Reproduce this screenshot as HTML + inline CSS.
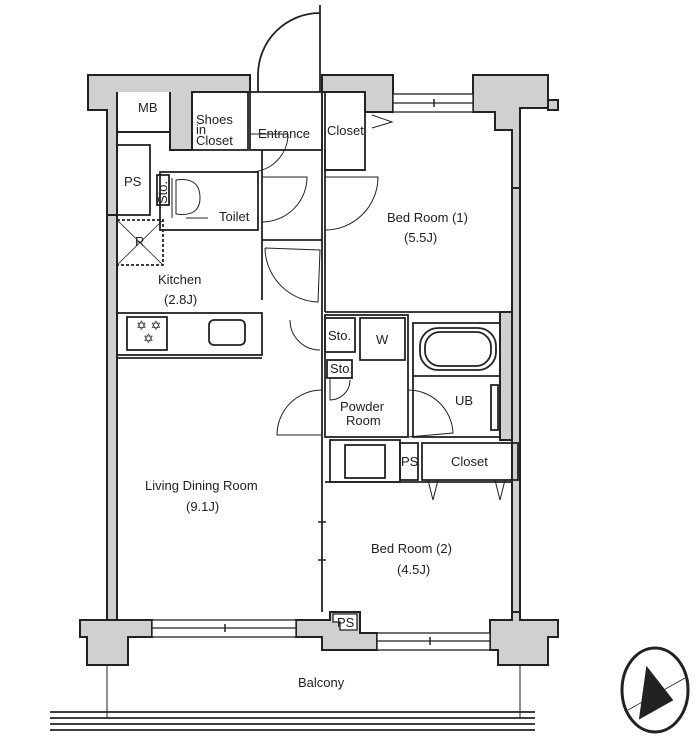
<!DOCTYPE html>
<html><head><meta charset="utf-8"><style>
html,body{margin:0;padding:0;background:#fff}
svg{display:block}
text{font-family:"Liberation Sans",Arial,sans-serif;fill:#222;font-size:13px}
</style></head><body>
<svg width="700" height="754" viewBox="0 0 700 754" xmlns="http://www.w3.org/2000/svg">
<g fill="#d0d0d0" stroke="#222" stroke-width="2">
<path d="M88 75 H250 V92 H192 V150 H170 V132 H117 V215 H107 V110 H88 Z"/>
<path d="M117 92 V132 H170 V92" fill="#fff"/>
<rect x="107" y="215" width="10" height="405"/>
<path d="M322 75 H393 V112 H365 V92 H322 Z"/>
<path d="M473 75 H548 V108 H520 V188 H512 V130 H495 V112 H473 Z"/>
<rect x="548" y="100" width="10" height="10"/>
<rect x="512" y="188" width="8" height="432"/>
<rect x="500" y="312" width="12" height="128"/>
<path d="M80 620 H152 V637 H128 V665 H87 V637 H80 Z"/>
<path d="M296 620 H330 V612 H360 V633 H377 V650 H322 V637 H296 Z"/>
<path d="M490 620 H512 V612 H520 V620 H558 V637 H548 V665 H498 V650 H490 Z"/>
</g>
<g fill="#fff" stroke="#222" stroke-width="1.3">
<rect x="393" y="94" width="80" height="18"/>
<line x1="393" y1="103" x2="473" y2="103"/>
<rect x="152" y="620" width="144" height="17"/>
<line x1="152" y1="628" x2="296" y2="628"/>
<rect x="377" y="633" width="113" height="17"/>
<line x1="377" y1="641" x2="490" y2="641"/>
<path d="M333 614 H357 V630 H340 V622 H333 Z"/>
</g>
<g fill="none" stroke="#222" stroke-width="1.8">
<rect x="192" y="92" width="56" height="58"/>
<rect x="250" y="92" width="72" height="58"/>
<rect x="325" y="92" width="40" height="78"/>
<rect x="117" y="145" width="33" height="70"/>
<rect x="160" y="172" width="98" height="58"/>
<rect x="157" y="175" width="12" height="30"/>
<rect x="117" y="220" width="46" height="45" stroke-dasharray="3 2"/>
<line x1="117" y1="220" x2="163" y2="265" stroke-width="0.8"/>
<line x1="163" y1="220" x2="117" y2="265" stroke-width="0.8"/>
<line x1="262" y1="150" x2="262" y2="300"/>
<line x1="322" y1="92" x2="322" y2="485"/>
<line x1="325" y1="150" x2="325" y2="312"/>
<line x1="262" y1="240" x2="322" y2="240"/>
<line x1="325" y1="312" x2="512" y2="312"/>
<line x1="325" y1="170" x2="365" y2="170"/>
<rect x="117" y="313" width="145" height="42"/>
<line x1="117" y1="358" x2="262" y2="358"/>
<rect x="127" y="317" width="40" height="33"/>
<rect x="209" y="320" width="36" height="25" rx="5"/>
<rect x="325" y="318" width="30" height="34"/>
<rect x="327" y="360" width="25" height="18"/>
<rect x="360" y="318" width="45" height="42"/>
<rect x="325" y="315" width="83" height="122"/>
<rect x="413" y="323" width="87" height="114"/>
<line x1="413" y1="376" x2="500" y2="376"/>
<rect x="420" y="328" width="76" height="42" rx="18"/>
<rect x="425" y="332" width="66" height="34" rx="15"/>
<rect x="491" y="385" width="7" height="45"/>
<rect x="330" y="440" width="70" height="42"/>
<rect x="345" y="445" width="40" height="33"/>
<rect x="400" y="443" width="18" height="37"/>
<rect x="422" y="443" width="96" height="37"/>
<line x1="325" y1="482" x2="512" y2="482"/>
<line x1="322" y1="485" x2="322" y2="612"/>
<line x1="117" y1="360" x2="117" y2="620"/>
<path d="M258 75 A62 62 0 0 1 320 13 M320 5 V92 M258 75 V92"/>
<path d="M250 172 A38 38 0 0 0 288 134 M250 134 H288" stroke-width="1"/>
<path d="M262 177 H307 A45 45 0 0 1 262 222" stroke-width="1"/>
<path d="M325 177 H378 A53 53 0 0 1 325 230" stroke-width="1"/>
<path d="M265 248 L320 250 L318 302 A55 55 0 0 1 265 248" stroke-width="1"/>
<path d="M290 320 A30 30 0 0 0 320 350" stroke-width="1"/>
<path d="M322 390 A45 45 0 0 0 277 435 H322" stroke-width="1"/>
<path d="M408 390 A45 45 0 0 1 453 433 L408 437" stroke-width="1"/>
<path d="M330 379 V400 A20 20 0 0 0 350 380" stroke-width="1"/>
<path d="M372 115 L392 122 L372 128" stroke-width="1"/>
<path d="M428 480 L433 500 L438 480 M495 480 L500 500 L505 480" stroke-width="1"/>
<path d="M176 180 C190 178 200 182 200 198 C200 212 190 216 176 214 Z M172 178 V218 M186 218 H208" stroke-width="1"/>
<line x1="107" y1="665" x2="107" y2="718" stroke-width="1"/>
<line x1="520" y1="665" x2="520" y2="718" stroke-width="1"/>
<line x1="50" y1="712" x2="535" y2="712"/>
<line x1="50" y1="718" x2="535" y2="718"/>
<line x1="50" y1="724" x2="535" y2="724"/>
<line x1="50" y1="730" x2="535" y2="730"/>
<ellipse cx="655" cy="690" rx="33" ry="42" stroke-width="3"/>
<path d="M640 718 L647 668 L672 700 Z" fill="#222"/>
<line x1="628" y1="710" x2="685" y2="678" stroke-width="0.8"/>
</g>
<g stroke="#222" stroke-width="1.5">
<line x1="434" y1="99" x2="434" y2="107"/>
<line x1="225" y1="624" x2="225" y2="632"/>
<line x1="430" y1="637" x2="430" y2="645"/>
<line x1="318" y1="522" x2="326" y2="522"/>
<line x1="318" y1="560" x2="326" y2="560"/>
</g>
<g fill="#222" font-size="10">
<text x="136" y="330">✡ ✡</text><text x="143" y="343">✡</text>
</g>
<text x="138" y="112">MB</text>
<text x="196" y="124" font-size="11">Shoes</text>
<text x="196" y="134" font-size="10">in</text>
<text x="196" y="145" font-size="11">Closet</text>
<text x="258" y="138">Entrance</text>
<text x="327" y="135">Closet</text>
<text x="124" y="186">PS</text>
<text x="167" y="204" font-size="11" transform="rotate(-90 167 204)">Sto.</text>
<text x="219" y="221">Toilet</text>
<text x="135" y="246">R</text>
<text x="387" y="222">Bed Room (1)</text>
<text x="404" y="242">(5.5J)</text>
<text x="158" y="284">Kitchen</text>
<text x="164" y="304">(2.8J)</text>
<text x="328" y="340" font-size="11">Sto.</text>
<text x="330" y="373" font-size="9">Sto.</text>
<text x="376" y="344">W</text>
<text x="340" y="411">Powder</text>
<text x="346" y="425">Room</text>
<text x="455" y="405">UB</text>
<text x="401" y="466" font-size="12">PS</text>
<text x="451" y="466">Closet</text>
<text x="145" y="490">Living Dining Room</text>
<text x="186" y="511">(9.1J)</text>
<text x="371" y="553">Bed Room (2)</text>
<text x="397" y="574">(4.5J)</text>
<text x="337" y="627" font-size="11">PS</text>
<text x="298" y="687">Balcony</text>
</svg>
</body></html>
